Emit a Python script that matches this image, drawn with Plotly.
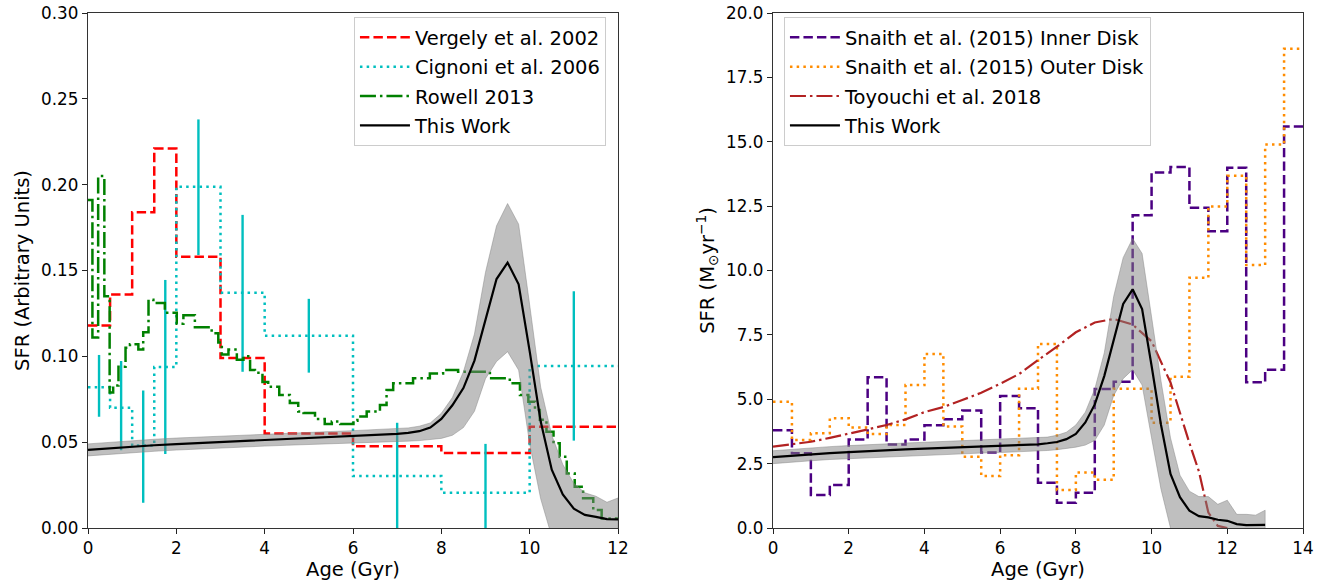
import plotly.graph_objects as go

# ---------------- Left panel data (SFR, arbitrary units) ----------------
verg_edges = [0, 0.5, 1, 1.5, 2, 3, 4, 6, 8, 10, 12]
verg_sfr = [0.118, 0.136, 0.184, 0.221, 0.158, 0.099, 0.055, 0.0476, 0.0437, 0.059]

cig_edges = [0, 0.5, 1, 1.5, 2, 3, 4, 6, 8, 10, 12]
cig_sfr = [0.082, 0.070, 0.048, 0.0938, 0.1988, 0.137, 0.112, 0.0303, 0.0206, 0.0944]
cig_err_age = [0.25, 0.75, 1.25, 1.75, 2.5, 3.5, 5, 7, 9, 11]
cig_err_val = [0.0828, 0.0713, 0.0474, 0.0938, 0.1985, 0.1367, 0.112, 0.0303, 0.0206, 0.0944]
cig_err = [0.018, 0.026, 0.0327, 0.0507, 0.0395, 0.0457, 0.0215, 0.031, 0.0284, 0.0435]

row_edges = [0, 0.1, 0.23, 0.37, 0.49, 0.57, 0.69, 0.85, 0.95, 1.14,
             1.25, 1.37, 1.48, 1.74, 2.01, 2.16, 2.42, 2.80, 2.95, 3.03,
             3.18, 3.37, 3.52, 3.67, 3.78, 3.95, 4.08, 4.33, 4.57, 4.76,
             4.88, 5.14, 5.36, 5.52, 5.71, 6.01, 6.10, 6.31, 6.61, 6.76,
             6.91, 7.36, 7.74, 8.04, 8.38, 9.10, 9.55, 9.78, 9.97, 10.12,
             10.23, 10.38, 10.54, 10.68, 10.84, 11.02, 11.21, 11.44, 11.63, 12.0]
row_sfr = [0.191, 0.111, 0.205, 0.135, 0.079, 0.083, 0.094, 0.105, 0.107, 0.104,
           0.114, 0.133, 0.131, 0.1254, 0.119, 0.124, 0.117, 0.1135, 0.108, 0.101,
           0.104, 0.098, 0.100, 0.092, 0.0905, 0.085, 0.0823, 0.0775, 0.0728, 0.0678,
           0.067, 0.0635, 0.0606, 0.062, 0.0606, 0.0625, 0.0649, 0.0678, 0.0716, 0.0804,
           0.0843, 0.0872, 0.090, 0.092, 0.091, 0.0872, 0.0843, 0.0775, 0.0736, 0.0687,
           0.063, 0.0561, 0.0493, 0.0415, 0.0318, 0.024, 0.0173, 0.0105, 0.0056]

tw_age_l = [0, 0.5, 1, 1.5, 2, 2.5, 3, 3.5, 4, 4.5, 5, 5.5, 6, 6.5, 7,
            7.25, 7.5, 7.75, 8.0, 8.25, 8.5, 8.75, 9.0, 9.25, 9.5, 9.75,
            10.0, 10.25, 10.5, 10.75, 11.0, 11.25, 11.5, 11.75, 12.0]
tw_med_l = [0.0455, 0.0465, 0.0474, 0.0482, 0.0489, 0.0495, 0.0501, 0.0507, 0.0512, 0.0517,
            0.0522, 0.0528, 0.0535, 0.0541, 0.0548, 0.0554, 0.0564, 0.0585, 0.0635, 0.0715,
            0.0815, 0.0975, 0.121, 0.145, 0.1546, 0.142, 0.103, 0.062, 0.034, 0.0195,
            0.0112, 0.0076, 0.0065, 0.0052, 0.0050]
tw_hi_l = [0.049, 0.050, 0.0509, 0.0517, 0.0524, 0.053, 0.0536, 0.0542, 0.0547, 0.0552,
           0.0557, 0.0562, 0.0567, 0.0572, 0.0577, 0.0583, 0.0593, 0.0612, 0.0668, 0.076,
           0.091, 0.113, 0.149, 0.176, 0.189, 0.177, 0.130, 0.082, 0.054, 0.037,
           0.026, 0.0205, 0.0185, 0.015, 0.0175]
tw_lo_l = [0.042, 0.0430, 0.0439, 0.0447, 0.0454, 0.046, 0.0466, 0.0472, 0.0477, 0.0482,
           0.0487, 0.0493, 0.0498, 0.0501, 0.0504, 0.0506, 0.0509, 0.0514, 0.0522, 0.0540,
           0.0585, 0.068, 0.087, 0.097, 0.1027, 0.092, 0.049, 0.017, -0.005, -0.025,
           -0.04, -0.05, -0.05, -0.05, -0.05]

# ---------------- Right panel data (SFR, Msun/yr) ----------------
sn_edges = [0, 0.5, 1, 1.5, 2, 2.5, 3, 3.5, 4, 4.5, 5, 5.5, 6, 6.5, 7,
            7.5, 8, 8.5, 9, 9.5, 10, 10.5, 11, 11.5, 12, 12.5, 13, 13.5, 14]
sn_inner = [3.8, 2.9, 1.28, 1.67, 3.44, 5.85, 3.24, 3.44, 3.99, 4.22,
            4.56, 2.93, 5.13, 4.65, 1.76, 0.98, 1.37, 5.40, 5.68, 12.15,
            13.81, 14.02, 12.44, 11.52, 13.99, 5.66, 6.15, 15.59]
sn_outer = [4.9, 3.42, 3.68, 4.26, 3.9, 3.65, 4.0, 5.55, 6.76, 3.94,
            2.77, 2.02, 2.83, 5.41, 7.15, 1.48, 2.16, 1.87, 5.41, 5.41,
            4.09, 5.87, 9.72, 12.49, 13.68, 10.21, 14.89, 18.61]

toy_age = [0, 0.5, 1, 1.5, 2, 2.5, 3, 3.5, 4, 4.5, 5, 5.5, 6, 6.5, 7, 7.5,
           8, 8.5, 9, 9.5, 10, 10.5, 11, 11.25, 11.5, 11.75, 12]
toy_sfr = [3.16, 3.25, 3.35, 3.5, 3.65, 3.83, 4.0, 4.22, 4.5, 4.7, 4.97, 5.25,
           5.6, 5.98, 6.52, 7.04, 7.6, 7.98, 8.12, 7.9, 7.25, 5.65, 3.3, 2.2,
           0.6, 0.08, 0.0]

tw_age_r = [0, 0.5, 1, 1.5, 2, 2.5, 3, 3.5, 4, 4.5, 5, 5.5, 6, 6.5, 7,
            7.25, 7.5, 7.75, 8.0, 8.25, 8.5, 8.75, 9.0, 9.25, 9.5, 9.75,
            10.0, 10.25, 10.5, 10.75, 11.0, 11.25, 11.5, 11.75, 12.0, 12.25,
            12.5, 12.75, 13.0]
tw_med_r = [2.75, 2.81, 2.86, 2.91, 2.95, 2.99, 3.02, 3.05, 3.08, 3.11,
            3.13, 3.16, 3.18, 3.21, 3.25, 3.29, 3.34, 3.45, 3.65, 4.1,
            4.8, 5.9, 7.3, 8.7, 9.27, 8.5, 6.3, 4.0, 2.1, 1.2,
            0.67, 0.46, 0.41, 0.32, 0.28, 0.15, 0.11, 0.11, 0.12]
tw_hi_r = [3.0, 3.06, 3.11, 3.16, 3.2, 3.24, 3.27, 3.3, 3.33, 3.36,
           3.38, 3.41, 3.43, 3.46, 3.49, 3.53, 3.6, 3.72, 4.0, 4.5,
           5.4, 6.8, 9.0, 10.5, 11.24, 10.66, 8.2, 5.7, 3.5, 2.05,
           1.43, 1.22, 1.22, 0.92, 1.08, 0.53, 0.53, 0.5, 0.69]
tw_lo_r = [2.5, 2.56, 2.61, 2.66, 2.7, 2.74, 2.77, 2.8, 2.83, 2.86,
           2.88, 2.91, 2.93, 2.96, 2.99, 3.01, 3.04, 3.08, 3.14, 3.22,
           3.4, 4.0, 5.15, 5.8, 6.15, 5.55, 3.5, 1.5, 0.0, -1.0,
           -1.5, -2.0, -2.0, -2.0, -2.0, -2.0, -2.0, -2.0, -2.0]

FONT = "DejaVu Sans, Liberation Sans, sans-serif"
TICK_FS = 16.8
LABEL_FS = 19.5
LEGEND_FS = 19.5


def step_y(vals):
    return list(vals) + [vals[-1]]


fig = go.Figure()

# ---- Left panel ----
fig.add_trace(go.Scatter(x=verg_edges, y=step_y(verg_sfr), mode="lines", line_shape="hv",
                         line=dict(color="#FF0000", width=2.5, dash="9.4px,4.1px"),
                         name="Vergely et al. 2002", legend="legend", legendgroup="a1",
                         xaxis="x", yaxis="y"))
fig.add_trace(go.Scatter(x=cig_edges, y=step_y(cig_sfr), mode="lines", line_shape="hv",
                         line=dict(color="#00BFBF", width=2.5, dash="2.5px,4.2px"),
                         name="Cignoni et al. 2006", legend="legend", legendgroup="a2",
                         xaxis="x", yaxis="y"))
fig.add_trace(go.Scatter(x=cig_err_age, y=cig_err_val, mode="markers",
                         marker=dict(size=1, color="rgba(0,0,0,0)"),
                         error_y=dict(type="data", array=cig_err, visible=True,
                                      color="#00BFBF", thickness=2.4, width=0),
                         showlegend=False, hoverinfo="skip", xaxis="x", yaxis="y"))
fig.add_trace(go.Scatter(x=row_edges, y=step_y(row_sfr), mode="lines", line_shape="hv",
                         line=dict(color="#008000", width=2.5, dash="16px,4px,2.5px,4px"),
                         name="Rowell 2013", legend="legend", legendgroup="a3",
                         xaxis="x", yaxis="y"))
fig.add_trace(go.Scatter(x=tw_age_l + tw_age_l[::-1], y=tw_hi_l + tw_lo_l[::-1],
                         mode="lines", fill="toself", fillcolor="rgba(128,128,128,0.5)",
                         line=dict(color="rgba(128,128,128,0.45)", width=1),
                         showlegend=False, hoverinfo="skip", xaxis="x", yaxis="y"))
fig.add_trace(go.Scatter(x=tw_age_l, y=tw_med_l, mode="lines",
                         line=dict(color="black", width=2.2),
                         name="This Work", legend="legend", legendgroup="a4",
                         xaxis="x", yaxis="y"))

# ---- Right panel ----
fig.add_trace(go.Scatter(x=sn_edges, y=step_y(sn_inner), mode="lines", line_shape="hv",
                         line=dict(color="#4B0082", width=2.5, dash="9.4px,4.1px"),
                         name="Snaith et al. (2015) Inner Disk", legend="legend2",
                         legendgroup="b1", xaxis="x2", yaxis="y2"))
fig.add_trace(go.Scatter(x=sn_edges, y=step_y(sn_outer), mode="lines", line_shape="hv",
                         line=dict(color="#FF8C00", width=2.5, dash="2.5px,4.2px"),
                         name="Snaith et al. (2015) Outer Disk", legend="legend2",
                         legendgroup="b2", xaxis="x2", yaxis="y2"))
fig.add_trace(go.Scatter(x=toy_age, y=toy_sfr, mode="lines",
                         line=dict(color="#B22222", width=2.2, dash="16px,4px,2.5px,4px"),
                         name="Toyouchi et al. 2018", legend="legend2",
                         legendgroup="b3", xaxis="x2", yaxis="y2"))
fig.add_trace(go.Scatter(x=tw_age_r + tw_age_r[::-1], y=tw_hi_r + tw_lo_r[::-1],
                         mode="lines", fill="toself", fillcolor="rgba(128,128,128,0.5)",
                         line=dict(color="rgba(128,128,128,0.45)", width=1),
                         showlegend=False, hoverinfo="skip", xaxis="x2", yaxis="y2"))
fig.add_trace(go.Scatter(x=tw_age_r, y=tw_med_r, mode="lines",
                         line=dict(color="black", width=2.2),
                         name="This Work", legend="legend2", legendgroup="b4",
                         xaxis="x2", yaxis="y2"))

axis_common = dict(showline=True, linecolor="#333333", linewidth=1.3, mirror=True,
                   ticks="outside", ticklen=5, tickwidth=1.2, tickcolor="#222222",
                   showgrid=False, zeroline=False, automargin=False,
                   tickfont=dict(family=FONT, size=TICK_FS, color="black"))

legend_common = dict(font=dict(family=FONT, size=LEGEND_FS, color="black"),
                     bgcolor="rgba(255,255,255,0.85)", bordercolor="#CCCCCC",
                     borderwidth=1, tracegroupgap=1, itemwidth=50,
                     yanchor="top", y=0.992)

fig.update_layout(
    width=1333, height=585,
    margin=dict(l=88, r=30, t=13, b=57, autoexpand=False),
    paper_bgcolor="white", plot_bgcolor="white",
    font=dict(family=FONT, size=TICK_FS, color="black"),
    xaxis=dict(domain=[0, 0.43621], range=[0, 12], tickvals=[0, 2, 4, 6, 8, 10, 12],
               title=dict(text="Age (Gyr)", standoff=2, font=dict(family=FONT, size=LABEL_FS)),
               anchor="y", **axis_common),
    yaxis=dict(domain=[0, 1], range=[0, 0.30],
               tickvals=[0, 0.05, 0.10, 0.15, 0.20, 0.25, 0.30], tickformat=".2f",
               title=dict(text="SFR (Arbitrary Units)", standoff=6,
                          font=dict(family=FONT, size=LABEL_FS)),
               anchor="x", **axis_common),
    xaxis2=dict(domain=[0.56379, 1], range=[0, 14], tickvals=[0, 2, 4, 6, 8, 10, 12, 14],
                title=dict(text="Age (Gyr)", standoff=2, font=dict(family=FONT, size=LABEL_FS)),
                anchor="y2", **axis_common),
    yaxis2=dict(domain=[0, 1], range=[0, 20],
                tickvals=[0, 2.5, 5, 7.5, 10, 12.5, 15, 17.5, 20], tickformat=".1f",
                title=dict(text="SFR (M<sub>⊙</sub>yr<sup>−1</sup>)", standoff=6,
                           font=dict(family=FONT, size=LABEL_FS)),
                anchor="x2", **axis_common),
    legend=dict(x=0.4263, xanchor="right", **legend_common),
    legend2=dict(x=0.5728, xanchor="left", **legend_common),
)

fig.write_html("out.html", config={"displayModeBar": False},
               post_script="document.body.style.margin='0';")
